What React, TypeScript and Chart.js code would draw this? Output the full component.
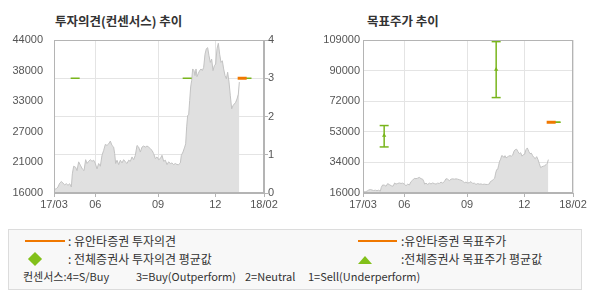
import React, { useEffect, useRef } from "react";
import { Chart, registerables } from "chart.js";

Chart.register(...registerables);

// ---------- data ----------
const xTickPositions = [0, 124, 312, 484, 630];
const xTickLabels = ["17/03", "06", "09", "12", "18/02"];
const X_MAX = 630;

const priceDays = [
  0, 7, 12, 17, 22, 27, 32, 37, 42, 47, 52, 55, 59, 65, 69, 74, 79, 85, 90, 95,
  99, 104, 109, 114, 119, 124, 129, 134, 139, 144, 149, 154, 159, 164, 169, 174, 179, 182, 185, 189,
  194, 199, 204, 209, 214, 219, 224, 229, 234, 239, 244, 249, 254, 259, 264, 269, 274, 279, 284, 289,
  294, 299, 304, 309, 314, 319, 324, 329, 334, 339, 344, 349, 354, 359, 364, 369, 374, 379, 382, 387,
  392, 395, 398, 401, 404, 407, 410, 413, 416, 420, 423, 426, 429, 433, 437, 441, 445, 449, 453, 457,
  461, 465, 469, 473, 477, 481, 485, 489, 493, 497, 501, 505, 509, 513, 517, 521, 525, 529, 533, 537,
  541, 545, 549, 553, 556,
];
const prices = [
  16600, 16800, 17100, 17800, 18100, 17800, 17500, 17700, 17400, 17700, 17100, 19500, 20900, 20700, 20100, 21700, 21100, 20400, 20100, 22100,
  21400, 21800, 22100, 21800, 22000, 21400, 20400, 21400, 20900, 22900, 23800, 24900, 24700, 25000, 25500, 24700, 24400, 23200, 21400, 22000,
  21200, 22000, 21500, 22100, 21700, 21400, 22000, 21800, 22600, 22100, 22900, 24700, 24400, 23500, 24400, 24600, 24400, 24600, 24400, 24100,
  23800, 23200, 22300, 22600, 22100, 22300, 22900, 21800, 22000, 21200, 21700, 21400, 21500, 21200, 21400, 21200, 21200, 21500, 22900, 23500,
  24400, 25000, 28100, 30200, 30300, 32900, 35400, 36600, 38700, 38400, 37500, 38700, 37300, 37900, 38400, 38700, 38400, 39000, 41400, 42400,
  42600, 41100, 39900, 40500, 38400, 39300, 39600, 42400, 43400, 41400, 39900, 40200, 38700, 37500, 36900, 38100, 36300, 33800, 31400, 32000,
  32300, 32600, 33200, 34100, 36300,
];

const priceAxisMinL = 16000;
const priceAxisMaxL = 44000;
const priceAxisLabelsL = ["16000", "21000", "27000", "33000", "38000", "44000"];
const opinionTicks = [0, 1, 2, 3, 4];

const priceAxisMinR = 16000;
const priceAxisMaxR = 109000;
const priceAxisLabelsR = ["16000", "34000", "53000", "72000", "90000", "109000"];

const consensusDays = [63.5, 399.5, 579];
const consensusOpinion = [3, 3, 3];
const consensusTargetAvg = [51000, 91000, 59000];
const consensusTargetLow = [44000, 74000, 59000];
const consensusTargetHigh = [57000, 108000, 59000];

const yuantaDays = [564.5];
const yuantaOpinion = [3];
const yuantaTarget = [59000];

// ---------- styles ----------
const ORANGE = "#f07800";
const GREEN = "#79b51c";
const AXIS = "#b4b4b4";
const GRID = "#e4e4e4";
const TXT = "#555";
const MARK_HALF = 13.5; // half width of horizontal marks, in x-axis units
const tickFont = { family: '"Liberation Sans", Arial, sans-serif', size: 11 };

const boxPlugin = {
  id: "boxBorder",
  afterDraw(chart: any) {
    const { ctx, chartArea: a } = chart;
    ctx.save();
    ctx.strokeStyle = AXIS;
    ctx.lineWidth = 1;
    const l = Math.round(a.left) + 0.5;
    const t = Math.round(a.top) + 0.5;
    const r = Math.round(a.right) - 0.5;
    const b = Math.round(a.bottom) - 0.5;
    ctx.strokeRect(l, t, r - l, b - t);
    ctx.restore();
  },
};

function evenTicks(min: number, max: number, n: number) {
  const out: { value: number }[] = [];
  for (let i = 0; i <= n; i++) out.push({ value: min + ((max - min) * i) / n });
  return out;
}

function xScale() {
  return {
    type: "linear",
    min: 0,
    max: X_MAX,
    afterBuildTicks: (s: any) => {
      s.ticks = xTickPositions.map((v) => ({ value: v }));
    },
    afterFit: (s: any) => {
      s.height = 22;
    },
    ticks: {
      callback: (_v: any, i: number) => xTickLabels[i],
      autoSkip: false,
      maxRotation: 0,
      color: TXT,
      font: tickFont,
      padding: 1,
    },
    grid: { color: GRID, tickColor: AXIS, tickLength: 4 },
    border: { color: AXIS },
  };
}

function priceDataset(yAxisID: string) {
  return {
    type: "line",
    data: priceDays.map((x, i) => ({ x, y: prices[i] })),
    yAxisID,
    borderColor: "#c2c2c2",
    borderWidth: 1,
    backgroundColor: "#e0e0e0",
    fill: "start",
    pointRadius: 0,
    tension: 0,
    order: 20,
  };
}

function hMark(x: number, y: number, color: string, width: number, yAxisID: string, order: number) {
  return {
    type: "line",
    data: [
      { x: x - MARK_HALF, y },
      { x: x + MARK_HALF, y },
    ],
    yAxisID,
    borderColor: color,
    borderWidth: width,
    pointRadius: 0,
    fill: false,
    order,
  };
}

function commonOptions(padding: any, scales: any) {
  return {
    responsive: false,
    maintainAspectRatio: false,
    animation: false,
    devicePixelRatio: 1,
    layout: { padding },
    plugins: { legend: { display: false }, tooltip: { enabled: false } },
    scales,
  };
}

function buildLeft() {
  const datasets: any[] = [priceDataset("yL")];
  consensusDays.forEach((d, i) => datasets.push(hMark(d, consensusOpinion[i], GREEN, 1.5, "yR", 5)));
  yuantaDays.forEach((d, i) => datasets.push(hMark(d, yuantaOpinion[i], ORANGE, 3, "yR", 1)));
  return {
    type: "line",
    data: { datasets },
    options: commonOptions(
      { top: 40, left: 0, right: 0, bottom: 0 },
      {
        x: xScale(),
        yL: {
          type: "linear",
          position: "left",
          min: priceAxisMinL,
          max: priceAxisMaxL,
          afterBuildTicks: (s: any) => {
            s.ticks = evenTicks(priceAxisMinL, priceAxisMaxL, priceAxisLabelsL.length - 1);
          },
          afterFit: (s: any) => {
            s.width = 54;
          },
          ticks: { callback: (_v: any, i: number) => priceAxisLabelsL[i], color: TXT, font: tickFont, padding: 3 },
          grid: { display: false },
          border: { color: AXIS },
        },
        yR: {
          type: "linear",
          position: "right",
          min: opinionTicks[0],
          max: opinionTicks[opinionTicks.length - 1],
          afterBuildTicks: (s: any) => {
            s.ticks = opinionTicks.map((v) => ({ value: v }));
          },
          afterFit: (s: any) => {
            s.width = 31;
          },
          ticks: { color: TXT, font: tickFont, padding: 0 },
          grid: { color: GRID, tickColor: AXIS, tickLength: 4 },
          border: { color: AXIS },
        },
      }
    ),
    plugins: [boxPlugin],
  };
}

function buildRight() {
  const datasets: any[] = [priceDataset("y")];
  consensusDays.forEach((d, i) => {
    const lo = consensusTargetLow[i];
    const hi = consensusTargetHigh[i];
    datasets.push({
      type: "line",
      data: [
        { x: d, y: lo },
        { x: d, y: hi },
      ],
      yAxisID: "y",
      borderColor: GREEN,
      borderWidth: 1.5,
      pointRadius: 0,
      order: 5,
    });
    datasets.push(hMark(d, lo, GREEN, 1.5, "y", 5));
    datasets.push(hMark(d, hi, GREEN, 1.5, "y", 5));
    if (hi !== lo) {
      datasets.push({
        type: "line",
        data: [{ x: d, y: consensusTargetAvg[i] }],
        yAxisID: "y",
        showLine: false,
        pointStyle: "triangle",
        pointRadius: 2.5,
        pointBorderWidth: 0,
        pointBackgroundColor: GREEN,
        order: 4,
      });
    }
  });
  yuantaDays.forEach((d, i) => datasets.push(hMark(d, yuantaTarget[i], ORANGE, 3, "y", 1)));
  return {
    type: "line",
    data: { datasets },
    options: commonOptions(
      { top: 40, left: 0, right: 17, bottom: 0 },
      {
        x: xScale(),
        y: {
          type: "linear",
          position: "left",
          min: priceAxisMinR,
          max: priceAxisMaxR,
          afterBuildTicks: (s: any) => {
            s.ticks = evenTicks(priceAxisMinR, priceAxisMaxR, priceAxisLabelsR.length - 1);
          },
          afterFit: (s: any) => {
            s.width = 68;
          },
          ticks: { callback: (_v: any, i: number) => priceAxisLabelsR[i], color: TXT, font: tickFont, padding: 3 },
          grid: { color: GRID, drawTicks: false },
          border: { color: AXIS },
        },
      }
    ),
    plugins: [boxPlugin],
  };
}

function ChartCanvas({ build, left }: { build: () => any; left: number }) {
  const ref = useRef<HTMLCanvasElement>(null);
  useEffect(() => {
    const chart = new Chart(ref.current as HTMLCanvasElement, build());
    return () => chart.destroy();
  }, []);
  return (
    <canvas
      ref={ref}
      width={295}
      height={215}
      style={{ position: "absolute", left, top: 0, width: 295, height: 215 }}
    />
  );
}

const KR = '"Noto Sans CJK KR", "Noto Sans", sans-serif';

function Txt({ left, top, size, children, bold }: any) {
  return (
    <div
      style={{
        position: "absolute",
        left,
        top,
        fontSize: size,
        lineHeight: "16px",
        fontWeight: bold ? 700 : 400,
        color: "#333",
        whiteSpace: "pre",
        fontFamily: KR,
      }}
    >
      {children}
    </div>
  );
}

export default function App() {
  return (
    <div
      style={{
        position: "absolute",
        left: 0,
        top: 0,
        width: 590,
        height: 300,
        background: "#fff",
        overflow: "hidden",
      }}
    >
      <Txt left={55} top={13} size={12.5} bold>
        투자의견(컨센서스) 추이
      </Txt>
      <Txt left={367} top={13} size={12.5} bold>
        목표주가 추이
      </Txt>
      <ChartCanvas build={buildLeft} left={0} />
      <ChartCanvas build={buildRight} left={295} />

      <div
        style={{
          position: "absolute",
          left: 8,
          top: 229,
          width: 574,
          height: 61,
          boxSizing: "border-box",
          border: "1px solid #dcdcdc",
          background: "#f8f8f8",
        }}
      />
      {/* row 1 */}
      <div style={{ position: "absolute", left: 25, top: 240, width: 40, height: 2, background: ORANGE }} />
      <Txt left={68} top={233} size={12}>
        : 유안타증권 투자의견
      </Txt>
      <div style={{ position: "absolute", left: 358, top: 240, width: 39, height: 2, background: ORANGE }} />
      <Txt left={401} top={233} size={12}>
        :유안타증권 목표주가
      </Txt>
      {/* row 2 */}
      <div
        style={{
          position: "absolute",
          left: 30,
          top: 254,
          width: 10,
          height: 10,
          background: "#82c01a",
          transform: "rotate(45deg)",
        }}
      />
      <Txt left={68} top={251} size={12}>
        : 전체증권사 투자의견 평균값
      </Txt>
      <div
        style={{
          position: "absolute",
          left: 358,
          top: 256,
          width: 0,
          height: 0,
          borderLeft: "7px solid transparent",
          borderRight: "7px solid transparent",
          borderBottom: "8px solid #82c01a",
        }}
      />
      <Txt left={401} top={251} size={12}>
        :전체증권사 목표주가 평균값
      </Txt>
      {/* row 3 */}
      <Txt left={23} top={268} size={11}>
        컨센서스:4=S/Buy
      </Txt>
      <Txt left={136} top={268} size={11}>
        3=Buy(Outperform)
      </Txt>
      <Txt left={245} top={268} size={11}>
        2=Neutral
      </Txt>
      <Txt left={308} top={268} size={11}>
        1=Sell(Underperform)
      </Txt>
    </div>
  );
}
